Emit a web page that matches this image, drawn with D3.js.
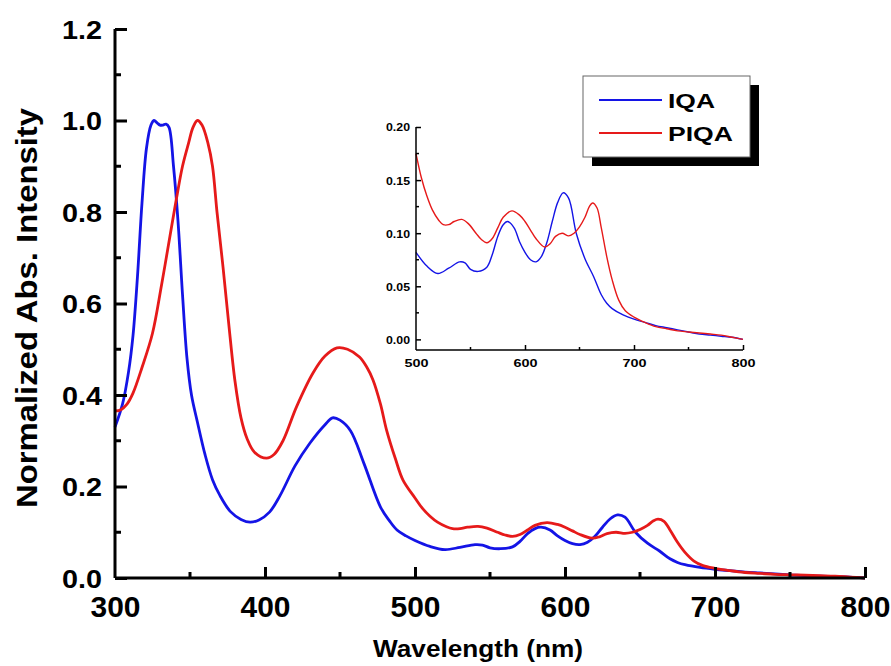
<!DOCTYPE html>
<html>
<head>
<meta charset="utf-8">
<script src="https://cdn.jsdelivr.net/npm/d3@7"></script>
<style>
  html, body { margin: 0; padding: 0; background: #fff; }
  svg { display: block; font-family: "Liberation Sans", Arial, sans-serif; }
</style>
</head>
<body>
<svg id="chart" width="891" height="666"></svg>
<script>
// ---- data ----
const seriesNames = ["IQA", "PIQA"];
const seriesColors = ["#1414e6", "#e61a1a"];

const iqaWavelength = [300,305,309,312,315,318,321,324,326,328,330,332,334,336,339,342,345,348,351,355,360,365,370,377,384,390,396,403,410,420,430,440,445,450,457,466,477,483,488,494,500,510,520,530,540,545,550,557,565,570,575,580,584,590,595,600,605,610,615,620,625,630,635,640,647,655,663,670,675,680,690,700,710,720,730,740,750,760,770,780,790,800];
const iqaValue = [0.33,0.38,0.45,0.53,0.66,0.82,0.94,0.99,1.00,0.995,0.99,0.99,0.992,0.985,0.90,0.78,0.62,0.48,0.40,0.34,0.27,0.215,0.18,0.145,0.128,0.122,0.127,0.144,0.18,0.245,0.295,0.335,0.35,0.345,0.322,0.25,0.155,0.125,0.105,0.092,0.082,0.069,0.062,0.067,0.073,0.072,0.066,0.064,0.068,0.080,0.097,0.108,0.111,0.105,0.092,0.082,0.075,0.073,0.078,0.091,0.111,0.129,0.138,0.133,0.100,0.076,0.059,0.042,0.034,0.029,0.023,0.019,0.016,0.013,0.011,0.009,0.007,0.005,0.004,0.003,0.002,0.000];

const piqaWavelength = [300,304,308,312,318,325,331,337,341,345,349,352,355,358,362,365,368,372,376,380,384,388,393,401,406,412,421,432,440,448,455,463,468,472,477,481,487,492,500,505,510,515,521,525,530,535,542,548,555,560,565,570,575,580,588,595,600,605,610,618,623,628,634,640,645,650,655,659,662,666,670,675,680,686,692,700,710,720,730,740,750,760,770,780,790,800];
const piqaValue = [0.365,0.368,0.38,0.404,0.46,0.535,0.64,0.754,0.83,0.90,0.95,0.985,1.00,0.99,0.95,0.90,0.80,0.68,0.55,0.43,0.35,0.305,0.275,0.262,0.27,0.30,0.374,0.448,0.485,0.503,0.50,0.483,0.46,0.433,0.38,0.324,0.26,0.214,0.175,0.152,0.135,0.122,0.112,0.108,0.108,0.111,0.113,0.109,0.100,0.094,0.091,0.095,0.105,0.115,0.121,0.117,0.111,0.103,0.095,0.087,0.090,0.097,0.100,0.0975,0.100,0.106,0.115,0.125,0.1285,0.124,0.105,0.078,0.056,0.037,0.027,0.021,0.016,0.012,0.010,0.008,0.007,0.006,0.005,0.004,0.002,0.000];

const mainXTicks = [300,400,500,600,700,800];
const mainXMinor = [350,450,550,650,750];
const mainYTicks = [0.0,0.2,0.4,0.6,0.8,1.0,1.2];
const mainYMinor = [0.1,0.3,0.5,0.7,0.9,1.1];
const insetXTicks = [500,600,700,800];
const insetXMinor = [550,650,750];
const insetYTicks = [0.00,0.05,0.10,0.15,0.20];
const insetYMinor = [0.025,0.075,0.125,0.175];

const series = [
  {name: seriesNames[0], color: seriesColors[0], pts: iqaWavelength.map((w,i)=>[w, iqaValue[i]])},
  {name: seriesNames[1], color: seriesColors[1], pts: piqaWavelength.map((w,i)=>[w, piqaValue[i]])}
];

const svg = d3.select("#chart");
const FONT = "Liberation Sans, Arial, sans-serif";

// ---- main plot ----
const x = d3.scaleLinear().domain([300, 800]).range([115, 865]);
const y = d3.scaleLinear().domain([0, 1.2]).range([578, 29]);

const line = d3.line().x(d => x(d[0])).y(d => y(d[1])).curve(d3.curveCatmullRom.alpha(0.5));

series.forEach(s => {
  svg.append("path").datum(s.pts)
    .attr("fill", "none").attr("stroke", s.color)
    .attr("stroke-width", 2.8).attr("stroke-linejoin", "round")
    .attr("d", line);
});

// x axis
const gx = svg.append("g").attr("transform", "translate(0,578)");
gx.call(d3.axisBottom(x).tickValues(mainXTicks).tickSizeInner(-11).tickSizeOuter(0).tickPadding(18).tickFormat(d3.format("d")));
gx.selectAll(".tick").filter(d => d === 300).select("line").remove();
gx.append("g").selectAll("line").data(mainXMinor).join("line")
  .attr("x1", d => x(d)).attr("x2", d => x(d)).attr("y1", 0).attr("y2", -6);
// y axis
const gy = svg.append("g").attr("transform", "translate(115,0)");
gy.call(d3.axisLeft(y).tickValues(mainYTicks).tickSizeInner(-12).tickSizeOuter(0).tickPadding(13).tickFormat(d3.format(".1f")));
gy.append("g").selectAll("line").data(mainYMinor).join("line")
  .attr("x1", 0).attr("x2", 6).attr("y1", d => y(d)).attr("y2", d => y(d));

[gx, gy].forEach(g => {
  g.select(".domain").attr("stroke", "#000").attr("stroke-width", 3);
  g.selectAll("line").attr("stroke", "#000").attr("stroke-width", 3);
  g.selectAll("text").attr("fill", "#000").attr("font-weight", "bold").attr("font-family", FONT);
});
gx.selectAll(".tick text").attr("font-size", 29).attr("y", 39).attr("dy", 0)
  .attr("textLength", 50).attr("lengthAdjust", "spacingAndGlyphs");
gy.selectAll(".tick text").attr("font-size", 25).attr("dy", "0.36em")
  .attr("textLength", 40).attr("lengthAdjust", "spacingAndGlyphs");
gy.select(".domain").attr("d", "M0,29V578");
gx.select(".domain").attr("d", "M115,0H865");

svg.append("text").attr("x", 478).attr("y", 657).attr("text-anchor", "middle")
  .attr("font-size", 24).attr("font-weight", "bold")
  .attr("textLength", 210).attr("lengthAdjust", "spacingAndGlyphs").text("Wavelength (nm)");
svg.append("text").attr("transform", "translate(37,308) rotate(-90)").attr("text-anchor", "middle")
  .attr("font-size", 29).attr("font-weight", "bold")
  .attr("textLength", 400).attr("lengthAdjust", "spacingAndGlyphs").text("Normalized Abs. Intensity");

// ---- inset ----
const xi = d3.scaleLinear().domain([500, 800]).range([416, 743]);
const yi = d3.scaleLinear().domain([-0.01, 0.2]).range([350, 127]);
const linei = d3.line().x(d => xi(d[0])).y(d => yi(d[1])).curve(d3.curveCatmullRom.alpha(0.5));
const inset = svg.append("g");
series.forEach(s => {
  inset.append("path").datum(s.pts.filter(p => p[0] >= 500))
    .attr("fill", "none").attr("stroke", s.color)
    .attr("stroke-width", 1.4).attr("d", linei);
});
const gix = inset.append("g").attr("transform", "translate(0,350)");
gix.call(d3.axisBottom(xi).tickValues(insetXTicks).tickSizeInner(-5).tickSizeOuter(0).tickPadding(9).tickFormat(d3.format("d")));
gix.selectAll(".tick").filter(d => d === 500).select("line").remove();
gix.append("g").selectAll("line").data(insetXMinor).join("line")
  .attr("x1", d => xi(d)).attr("x2", d => xi(d)).attr("y1", 0).attr("y2", -3);
const giy = inset.append("g").attr("transform", "translate(416,0)");
giy.call(d3.axisLeft(yi).tickValues(insetYTicks).tickSizeInner(-5).tickSizeOuter(0).tickPadding(6).tickFormat(d3.format(".2f")));
giy.append("g").selectAll("line").data(insetYMinor).join("line")
  .attr("x1", 0).attr("x2", 3).attr("y1", d => yi(d)).attr("y2", d => yi(d));
[gix, giy].forEach(g => {
  g.select(".domain").attr("stroke", "#000").attr("stroke-width", 1.5);
  g.selectAll("line").attr("stroke", "#000").attr("stroke-width", 1.5);
  g.selectAll("text").attr("fill", "#000").attr("font-weight", "bold").attr("font-size", 11).attr("font-family", FONT);
});
giy.selectAll(".tick text").attr("dy", "0.36em").attr("textLength", 24).attr("lengthAdjust", "spacingAndGlyphs");
gix.selectAll(".tick text").attr("textLength", 24).attr("lengthAdjust", "spacingAndGlyphs");
giy.select(".domain").attr("d", "M0,127V350");
gix.select(".domain").attr("d", "M416,0H743");

// ---- legend ----
const lg = svg.append("g");
lg.append("rect").attr("x", 592).attr("y", 85).attr("width", 167).attr("height", 81).attr("fill", "#000");
lg.append("rect").attr("x", 583).attr("y", 76).attr("width", 167).attr("height", 81)
  .attr("fill", "#fff").attr("stroke", "#666").attr("stroke-width", 1);
series.forEach((s, i) => {
  const yy = 100 + i * 33;
  lg.append("line").attr("x1", 599).attr("x2", 662).attr("y1", yy).attr("y2", yy)
    .attr("stroke", s.color).attr("stroke-width", 2);
  lg.append("text").attr("x", 668).attr("y", yy + 8).attr("font-size", 21)
    .attr("font-weight", "bold").attr("fill", "#000")
    .attr("textLength", i === 0 ? 47 : 65).attr("lengthAdjust", "spacingAndGlyphs").text(s.name);
});
</script>
</body>
</html>
